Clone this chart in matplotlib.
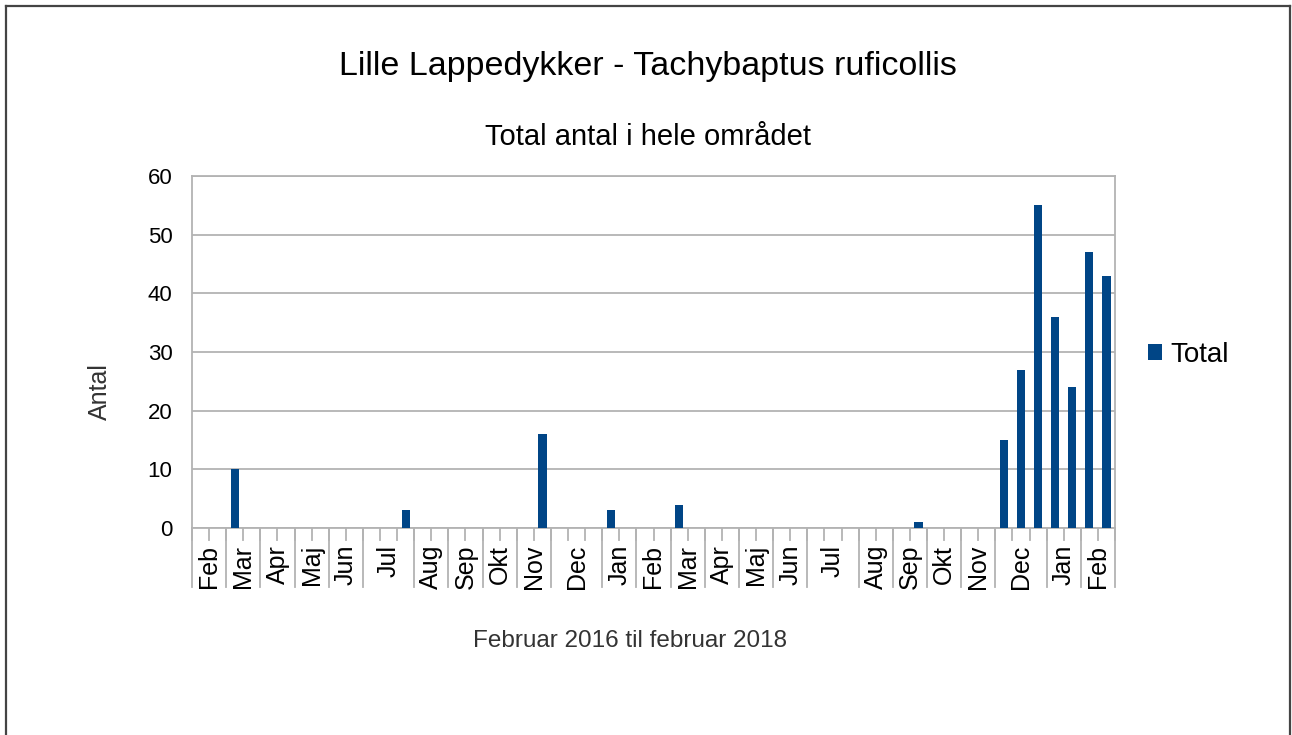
import numpy as np
import matplotlib
matplotlib.use("Agg")
import matplotlib.pyplot as plt
from matplotlib.lines import Line2D

plt.rcParams["font.family"] = ["Liberation Sans", "DejaVu Sans"]

# month groups on the category axis (Feb 2016 - Feb 2018) and how many counts each holds
month_labels = ["Feb", "Mar", "Apr", "Maj", "Jun", "Jul", "Aug", "Sep", "Okt", "Nov", "Dec",
                "Jan", "Feb", "Mar", "Apr", "Maj", "Jun", "Jul", "Aug", "Sep", "Okt", "Nov", "Dec",
                "Jan", "Feb"]
obs_per_month = [2, 2, 2, 2, 2, 3, 2, 2, 2, 2, 3,
                 2, 2, 2, 2, 2, 2, 3, 2, 2, 2, 2, 3,
                 2, 2]

# one value per count (empty counts as 0)
total = [0, 0, 10, 0, 0, 0, 0, 0, 0, 0, 0, 0, 3, 0, 0, 0, 0, 0, 0, 0, 16, 0, 0, 0,
         3, 0, 0, 0, 4, 0, 0, 0, 0, 0, 0, 0, 0, 0, 0, 0, 0, 0, 1, 0, 0, 0, 0, 15, 27, 55,
         36, 24, 47, 43]

bar_color = "#004586"
grid_color = "#b3b3b3"

W, H = 1292, 735
fig = plt.figure(figsize=(W / 100, H / 100), dpi=100)
ax = fig.add_axes([192 / W, 1 - 528 / H, 923 / W, 352 / H])

x = np.arange(len(total))
ax.bar(x, total, width=0.48, color=bar_color, zorder=3, label="Total")
ax.set_xlim(-0.5, len(total) - 0.5)
ax.set_ylim(0, 60)
ax.set_yticks(range(0, 61, 10))
ax.tick_params(axis="y", length=0, pad=14, labelsize=16)
ax.set_xticks([])
ax.yaxis.grid(True, color=grid_color, lw=1.3, zorder=0)
for s in ax.spines.values():
    s.set_color(grid_color)
    s.set_linewidth(1.3)

# category tick marks and month group separators below the axis
trans = ax.get_xaxis_transform()
edges = np.arange(len(total) + 1) - 0.5
for e in edges:
    ax.add_line(Line2D([e, e], [0, -0.034], transform=trans, color=grid_color,
                       lw=1.3, clip_on=False))
group_edges = np.concatenate([[0], np.cumsum(obs_per_month)]) - 0.5
for e in group_edges:
    ax.add_line(Line2D([e, e], [0, -0.168], transform=trans, color=grid_color,
                       lw=1.3, clip_on=False))
centers = (group_edges[:-1] + group_edges[1:]) / 2
for c, lab in zip(centers, month_labels):
    ax.text(c, -0.048, lab, transform=trans, rotation=90, ha="center", va="top",
            fontsize=18)

fig.text(648 / W, 1 - 66 / H, "Lille Lappedykker - Tachybaptus ruficollis",
         ha="center", va="center", fontsize=24.5)
fig.text(648 / W, 1 - 137 / H, "Total antal i hele området",
         ha="center", va="center", fontsize=21)
fig.text(630 / W, 1 - 641 / H, "Februar 2016 til februar 2018",
         ha="center", va="center", fontsize=17.5, color="#333333")
fig.text(100 / W, 1 - 392 / H, "Antal", rotation=90,
         ha="center", va="center", fontsize=18, color="#333333")

fig.legend(loc="center left", bbox_to_anchor=(1148 / W, 1 - 355 / H), frameon=False,
           handlelength=0.5, handleheight=0.5, handletextpad=0.3, borderpad=0,
           borderaxespad=0, fontsize=20)

# page frame
for xs, ys in [([6, 6], [H + 5, 6]), ([6, 1290], [6, 6]), ([1290, 1290], [6, H + 5])]:
    fig.add_artist(Line2D([v / W for v in xs], [1 - v / H for v in ys],
                          transform=fig.transFigure, color="#444444", lw=1.6))

fig.savefig("out.png", dpi=100, facecolor="white")
